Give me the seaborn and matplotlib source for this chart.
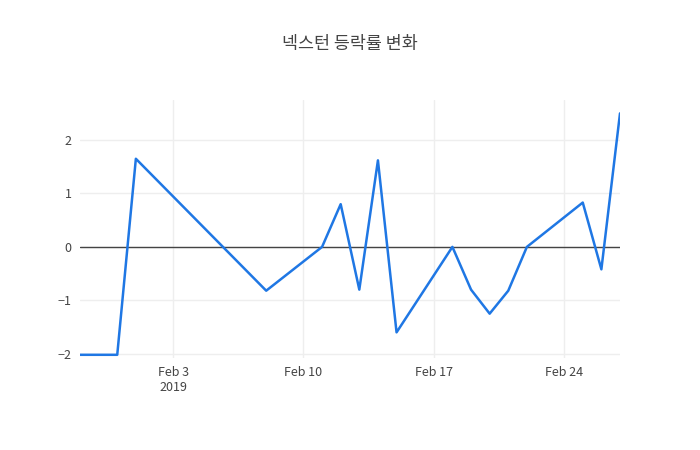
import matplotlib
matplotlib.use("Agg")
import matplotlib.pyplot as plt
import seaborn as sns
import pandas as pd

dates = ["2019-01-29","2019-01-31","2019-02-01","2019-02-08","2019-02-11","2019-02-12",
         "2019-02-13","2019-02-14","2019-02-15","2019-02-18","2019-02-19","2019-02-20",
         "2019-02-21","2019-02-22","2019-02-25","2019-02-26","2019-02-27"]
values = [-2.02,-2.02,1.65,-0.82,0.0,0.8,-0.8,1.62,-1.6,0.0,-0.8,-1.25,-0.82,0.0,0.83,-0.42,2.5]
tick_dates = ["2019-02-03","2019-02-10","2019-02-17","2019-02-24"]
tick_labels = ["Feb 3\n2019","Feb 10","Feb 17","Feb 24"]
title = "넥스턴 등락률 변화"

df = pd.DataFrame({"date": pd.to_datetime(dates), "value": values})

sns.set_style("white")
plt.rcParams['font.family'] = ['Noto Sans CJK KR', 'DejaVu Sans']

fig = plt.figure(figsize=(7, 4.5), dpi=100)
ax = fig.add_axes([80/700, 1-358/450, 540/700, 258/450])
sns.lineplot(data=df, x="date", y="value", ax=ax, color="#1f77e4", linewidth=1.8)
ax.axhline(0, color="#444444", linewidth=1, zorder=1)
ax.set_xlim(df["date"].min(), df["date"].max())
ax.set_ylim(-2.08, 2.75)
ax.set_xticks(pd.to_datetime(tick_dates))
ax.set_xticklabels(tick_labels)
ax.set_yticks([-2, -1, 0, 1, 2])
ax.set_yticklabels(["−2", "−1", "0", "1", "2"])
ax.grid(True, color="#eeeeee", linewidth=1)
ax.set_axisbelow(True)
for s in ax.spines.values():
    s.set_visible(False)
ax.tick_params(length=0, labelsize=9, colors="#444444", pad=6)
ax.set_xlabel("")
ax.set_ylabel("")
fig.text(0.5, 1-44/450, title, ha="center", va="center", fontsize=12.5, color="#444444")
fig.savefig("out.png", dpi=100)
